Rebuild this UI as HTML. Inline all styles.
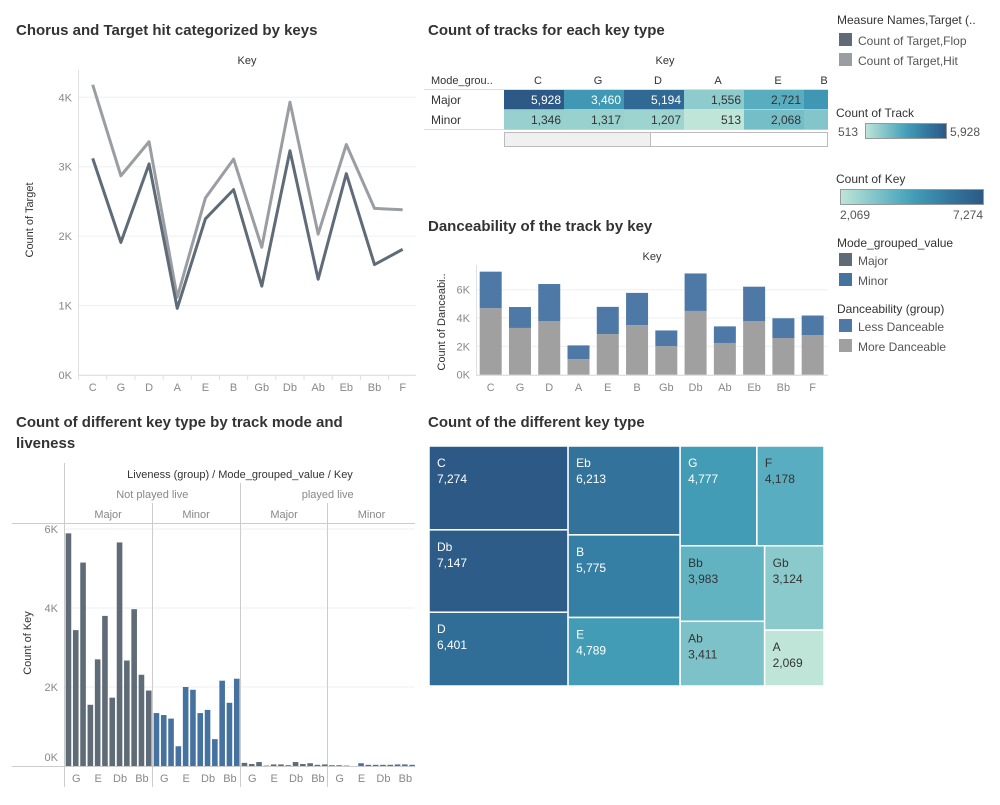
<!DOCTYPE html>
<html><head><meta charset="utf-8"><style>
body{margin:0;background:#fff;font-family:"Liberation Sans",sans-serif;}
svg text{font-family:"Liberation Sans",sans-serif;}
</style></head><body>
<svg id="s" width="1000" height="800" viewBox="0 0 1000 800" xmlns="http://www.w3.org/2000/svg">
<defs>
<linearGradient id="gb" x1="0" x2="1" y1="0" y2="0">
<stop offset="0" stop-color="#bfe5d8"/><stop offset="0.2" stop-color="#8ccacc"/><stop offset="0.4" stop-color="#5aaec0"/><stop offset="0.52" stop-color="#429cb6"/><stop offset="0.75" stop-color="#3479a0"/><stop offset="1" stop-color="#2c5985"/>
</linearGradient>
<clipPath id="hclip"><rect x="504" y="88" width="324" height="42"/></clipPath>
</defs>
<g font-size="15" font-weight="bold" fill="#333">
<text x="16" y="35">Chorus and Target hit categorized by keys</text>
<text x="428" y="35">Count of tracks for each key type</text>
<text x="428" y="231">Danceability of the track by key</text>
<text x="16" y="427">Count of different key type by track mode and</text>
<text x="16" y="448">liveness</text>
<text x="428" y="427">Count of the different key type</text>
</g>
<g id="line"></g>
<g id="table"></g>
<g id="dance"></g>
<g id="bars"></g>
<g id="tree"></g>
<g id="legend" font-size="12" fill="#333">
<text x="837" y="46" dy="-22">Measure Names,Target (..</text>
<rect x="839" y="33" width="13" height="13" fill="#5f6b77"/>
<text x="858" y="45" fill="#555">Count of Target,Flop</text>
<rect x="839" y="53" width="13" height="13" fill="#9a9ea3"/>
<text x="858" y="65" fill="#555">Count of Target,Hit</text>
<text x="836" y="117">Count of Track</text>
<text x="838" y="136" fill="#555">513</text>
<rect x="865.5" y="123.5" width="81" height="15" fill="url(#gb)" stroke="#999"/>
<text x="950" y="136" fill="#555">5,928</text>
<text x="836" y="183">Count of Key</text>
<rect x="840.5" y="189.5" width="143" height="15" fill="url(#gb)" stroke="#999"/>
<text x="840" y="219" fill="#555">2,069</text>
<text x="983" y="219" fill="#555" text-anchor="end">7,274</text>
<text x="837" y="247">Mode_grouped_value</text>
<rect x="839" y="253" width="13" height="13" fill="#5f6b77"/>
<text x="858" y="265" fill="#555">Major</text>
<rect x="839" y="273" width="13" height="13" fill="#4672a0"/>
<text x="858" y="285" fill="#555">Minor</text>
<text x="837" y="313">Danceability (group)</text>
<rect x="839" y="319" width="13" height="13" fill="#4e79a7"/>
<text x="858" y="331" fill="#555">Less Danceable</text>
<rect x="839" y="339" width="13" height="13" fill="#a0a0a0"/>
<text x="858" y="351" fill="#555">More Danceable</text>
</g>
</svg>
<script>
const keys = ['C','G','D','A','E','B','Gb','Db','Ab','Eb','Bb','F'];
const hitVals = [4180,2870,3360,1120,2550,3110,1840,3930,2030,3320,2400,2380];
const flopVals = [3120,1910,3040,960,2250,2670,1280,3230,1380,2900,1590,1810];
const lineTicks = [0,1000,2000,3000,4000];
const lineTickLabels = ['0K','1K','2K','3K','4K'];
const tableKeys = ['C','G','D','A','E','B'];
const tableMajor = [5928,3460,5194,1556,2721,3500];
const tableMinor = [1346,1317,1207,513,2068,1800];
const danceTotal = [7274,4777,6401,2069,4789,5775,3124,7147,3411,6213,3983,4178];
const danceMore = [4700,3300,3790,1100,2870,3500,2020,4500,2240,3790,2590,2800];
const danceTicks = [0,2000,4000,6000];
const danceTickLabels = ['0K','2K','4K','6K'];
const majorLive0 = [5890,3440,5150,1550,2700,3800,1730,5660,2670,3970,2310,1910];
const minorLive0 = [1340,1290,1200,500,2000,1930,1340,1420,680,2160,1600,2210];
const majorLive1 = [80,50,100,10,40,40,20,100,50,70,30,40];
const minorLive1 = [20,20,10,0,70,30,30,30,30,40,40,30];
const barTicks = [0,2000,4000,6000];
const barTickLabels = ['0K','2K','4K','6K'];
const treeKeys = ['C','Db','D','Eb','B','E','G','F','Bb','Ab','Gb','A'];
const treeVals = [7274,7147,6401,6213,5775,4789,4777,4178,3983,3411,3124,2069];

const NS='http://www.w3.org/2000/svg';
function mk(parent,tag,attrs,text){const e=document.createElementNS(NS,tag);for(const k in attrs)e.setAttribute(k,attrs[k]);if(text!==undefined)e.textContent=text;parent.appendChild(e);return e;}
function hex(c){return [1,3,5].map(i=>parseInt(c.substr(i,2),16));}
const stops=[[0,'#bfe5d8'],[0.2,'#8ccacc'],[0.4,'#5aaec0'],[0.52,'#429cb6'],[0.75,'#3479a0'],[1,'#2c5985']];
function ramp(t){t=Math.max(0,Math.min(1,t));for(let i=1;i<stops.length;i++){if(t<=stops[i][0]){const a=hex(stops[i-1][1]),b=hex(stops[i][1]);const f=(t-stops[i-1][0])/(stops[i][0]-stops[i-1][0]);return 'rgb('+a.map((v,j)=>Math.round(v+(b[j]-v)*f)).join(',')+')';}}return stops[stops.length-1][1];}
function fmt(v){return v.toLocaleString('en-US');}

// ---- line chart
(function(){
const g=document.getElementById('line');
const x0=92.7, dx=28.18, yb=375, ys=(375-97.3)/4000;
const X=i=>x0+i*dx, Y=v=>yb-v*ys;
let t=mk(g,'text',{x:247,y:64,'font-size':11,fill:'#333','text-anchor':'middle'},'Key');

t=mk(g,'text',{transform:'translate(33,220) rotate(-90)','font-size':11,fill:'#333','text-anchor':'middle'},'Count of Target');

lineTicks.forEach((v,i)=>{
 const l=mk(g,'line',{x1:78,x2:416,y1:Y(v),y2:Y(v),stroke:'#efefef'});
 
 const tt=mk(g,'text',{x:72,y:Y(v)+4,'font-size':11,fill:'#888','text-anchor':'end'},lineTickLabels[i]);
 
});
mk(g,'line',{x1:78.5,x2:78.5,y1:70,y2:376,stroke:'#e0e0e0'});
mk(g,'line',{x1:78,x2:416,y1:375.5,y2:375.5,stroke:'#e0e0e0'});
keys.forEach((k,i)=>{
 mk(g,'line',{x1:X(i)-dx/2,x2:X(i)-dx/2,y1:375,y2:380,stroke:'#e0e0e0'});
 const tt=mk(g,'text',{x:X(i),y:391,'font-size':11,fill:'#888','text-anchor':'middle'},k);
 
});
[[hitVals,'#9a9ea3','line-hit'],[flopVals,'#5f6b77','line-flop']].forEach(s=>{
 const p=mk(g,'polyline',{points:s[0].map((v,i)=>X(i)+','+Y(v)).join(' '),fill:'none',stroke:s[1],'stroke-width':3,'stroke-linejoin':'round'});
 
});
})();

// ---- highlight table
(function(){
const g=document.getElementById('table');
let t=mk(g,'text',{x:665,y:64,'font-size':11,fill:'#333','text-anchor':'middle'},'Key');

t=mk(g,'text',{x:431,y:84,'font-size':11,fill:'#333'},'Mode_grou..');

const cw=60, cx=504;
tableKeys.forEach((k,i)=>{
 const hx = i===5 ? 824 : cx+i*cw+34;
 const tt=mk(g,'text',{x:hx,y:84,'font-size':11,fill:'#333','text-anchor':'middle'},k);
 
});
mk(g,'line',{x1:424,x2:828,y1:89.5,y2:89.5,stroke:'#ddd'});
mk(g,'line',{x1:424,x2:828,y1:129.5,y2:129.5,stroke:'#ddd'});
const cg=mk(g,'g',{'clip-path':'url(#hclip)'});
[[tableMajor,'Major',90],[tableMinor,'Minor',110]].forEach(r=>{
 const tt=mk(g,'text',{x:431,y:r[2]+14,'font-size':12,fill:'#333'},r[1]);
 
 r[0].forEach((v,i)=>{
  const tv=(v-513)/(5928-513);
  const c=mk(cg,'rect',{x:cx+i*cw,y:r[2],width:cw,height:19.5,fill:ramp(tv)});
  
  const tx=mk(cg,'text',{x:cx+i*cw+cw-3,y:r[2]+14,'font-size':12,fill:tv>0.45?'#fff':'#333','text-anchor':'end'},fmt(v));
  
 });
});
const sb=mk(g,'rect',{x:504.5,y:132.5,width:323,height:14,fill:'#fff',stroke:'#bbb'});

const th=mk(g,'rect',{x:504.5,y:132.5,width:146,height:14,fill:'#f0f0f0',stroke:'#bbb'});

})();

// ---- danceability
(function(){
const g=document.getElementById('dance');
const x0=490.7, dx=29.27, yb=374.7, ys=(374.7-289.7)/6000, bw=22;
const X=i=>x0+i*dx, Y=v=>yb-v*ys;
let t=mk(g,'text',{x:652,y:260,'font-size':11,fill:'#333','text-anchor':'middle'},'Key');

t=mk(g,'text',{transform:'translate(445,322) rotate(-90)','font-size':11,fill:'#333','text-anchor':'middle'},'Count of Danceabi..');

danceTicks.forEach((v,i)=>{
 mk(g,'line',{x1:477,x2:828,y1:Y(v),y2:Y(v),stroke:'#efefef'});
 const tt=mk(g,'text',{x:470,y:Y(v)+4,'font-size':11,fill:'#888','text-anchor':'end'},danceTickLabels[i]);
 
});
mk(g,'line',{x1:476.5,x2:476.5,y1:265,y2:376,stroke:'#e0e0e0'});
mk(g,'line',{x1:476,x2:828,y1:375.5,y2:375.5,stroke:'#e0e0e0'});
keys.forEach((k,i)=>{
 const a=mk(g,'rect',{x:X(i)-bw/2,y:Y(danceMore[i]),width:bw,height:Y(0)-Y(danceMore[i]),fill:'#a0a0a0'});
 
 const b=mk(g,'rect',{x:X(i)-bw/2,y:Y(danceTotal[i]),width:bw,height:Y(danceMore[i])-Y(danceTotal[i]),fill:'#4e79a7'});
 
 const tt=mk(g,'text',{x:X(i),y:391,'font-size':11,fill:'#888','text-anchor':'middle'},k);
 
});
})();

// ---- bar chart by liveness/mode
(function(){
const g=document.getElementById('bars');
const px=[64.3,152.3,240.3,327.7], pw=87.6, slot=pw/12, bw=5.6, yb=766, ys=(766-529)/6000;
const Y=v=>yb-v*ys;
let t=mk(g,'text',{x:240,y:478,'font-size':11,fill:'#333','text-anchor':'middle'},'Liveness (group)  /  Mode_grouped_value  /  Key');

[['Not played live',152.3],['played live',327.7]].forEach(h=>{
 const tt=mk(g,'text',{x:h[1],y:498,'font-size':11,fill:'#888','text-anchor':'middle'},h[0]);
 
});
['Major','Minor','Major','Minor'].forEach((m,i)=>{
 const tt=mk(g,'text',{x:px[i]+pw/2,y:518,'font-size':11,fill:'#888','text-anchor':'middle'},m);
 
});
t=mk(g,'text',{transform:'translate(31,643) rotate(-90)','font-size':11,fill:'#333','text-anchor':'middle'},'Count of Key');

barTicks.forEach((v,i)=>{
 if(v>0) mk(g,'line',{x1:65,x2:415,y1:Y(v),y2:Y(v),stroke:'#efefef'});
 const tt=mk(g,'text',{x:58,y:Y(v)+(v===0?-5:4),'font-size':11,fill:'#888','text-anchor':'end'},barTickLabels[i]);
 
});
mk(g,'line',{x1:12,x2:415,y1:523.5,y2:523.5,stroke:'#ccc'});
mk(g,'line',{x1:12,x2:415,y1:766.5,y2:766.5,stroke:'#ccc'});
mk(g,'line',{x1:64.5,x2:64.5,y1:463,y2:787,stroke:'#ccc'});
mk(g,'line',{x1:240.5,x2:240.5,y1:483,y2:787,stroke:'#ccc'});
mk(g,'line',{x1:152.5,x2:152.5,y1:503,y2:787,stroke:'#ccc'});
mk(g,'line',{x1:327.5,x2:327.5,y1:503,y2:787,stroke:'#ccc'});
const series=[[majorLive0,'#5f6b77','major-notlive'],[minorLive0,'#4672a0','minor-notlive'],[majorLive1,'#5f6b77','major-live'],[minorLive1,'#4672a0','minor-live']];
series.forEach((s,p)=>{
 keys.forEach((k,i)=>{
  const x=px[p]+i*slot+(slot-bw)/2+0.5;
  const r=mk(g,'rect',{x:x,y:Y(s[0][i]),width:bw,height:Y(0)-Y(s[0][i]),fill:s[1]});
  
  if(i%3===1){
   const tt=mk(g,'text',{x:px[p]+i*slot+slot/2+1,y:782,'font-size':11,fill:'#888','text-anchor':'middle'},k);
   
  }
 });
});
})();

// ---- treemap
(function(){
const g=document.getElementById('tree');
const X0=429,Y0=446,W=395,H=240;
const total=treeVals.reduce((a,b)=>a+b,0);
const mn=Math.min(...treeVals), mx=Math.max(...treeVals);
const rects=[];
function col(idx,x,w,y,h){const s=idx.reduce((a,i)=>a+treeVals[i],0);let yy=y;idx.forEach(i=>{const hh=h*treeVals[i]/s;rects.push([i,x,yy,w,hh]);yy+=hh;});}
function row(idx,x,w,y,h){const s=idx.reduce((a,i)=>a+treeVals[i],0);let xx=x;idx.forEach(i=>{const ww=w*treeVals[i]/s;rects.push([i,xx,y,ww,h]);xx+=ww;});}
const sum=a=>a.reduce((s,i)=>s+treeVals[i],0);
const w1=W*sum([0,1,2])/total, w2=W*sum([3,4,5])/total;
col([0,1,2],X0,w1,Y0,H);
col([3,4,5],X0+w1,w2,Y0,H);
const rx=X0+w1+w2, rw=W-w1-w2, rest=sum([6,7,8,9,10,11]);
const th=H*sum([6,7])/rest;
row([6,7],rx,rw,Y0,th);
const bs=sum([8,9,10,11]);
const cw1=rw*sum([8,9])/bs;
col([8,9],rx,cw1,Y0+th,H-th);
col([10,11],rx+cw1,rw-cw1,Y0+th,H-th);
rects.forEach(r=>{
 const i=r[0], tv=(treeVals[i]-mn)/(mx-mn);
 const e=mk(g,'rect',{x:r[1],y:r[2],width:r[3],height:r[4],fill:ramp(tv),stroke:'#fff','stroke-width':1.5});
 
 const fc=tv>0.5?'#fff':'#333';
 const a=mk(g,'text',{x:r[1]+8,y:r[2]+21,'font-size':12,fill:fc},treeKeys[i]);
 
 const b=mk(g,'text',{x:r[1]+8,y:r[2]+37,'font-size':12,fill:fc},fmt(treeVals[i]));
 
});
})();
</script>
</body></html>
